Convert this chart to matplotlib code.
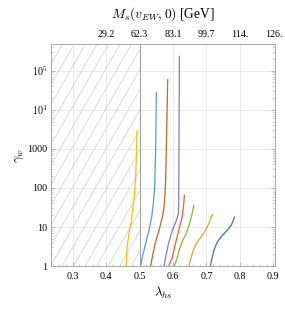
import numpy as np
import matplotlib
matplotlib.use("Agg")
import matplotlib.pyplot as plt
from matplotlib.ticker import FixedLocator, LogLocator, NullFormatter
from matplotlib.collections import LineCollection

plt.rcParams['font.family'] = ['Liberation Serif', 'DejaVu Serif']
plt.rcParams['mathtext.fontset'] = 'cm'

# =========================
# Data
# =========================
lam_yellow = [0.460, 0.461, 0.463, 0.468, 0.476, 0.478, 0.483, 0.488, 0.490, 0.492]
gam_yellow = [1, 1.8, 3.1, 6.8, 14.8, 24, 48, 160, 510, 2900]

lam_blue = [0.503, 0.508, 0.518, 0.528, 0.536, 0.541, 0.545, 0.548, 0.550]
gam_blue = [1, 1.7, 3.7, 8.2, 18, 40, 107, 1000, 28000]

lam_brown = [0.533, 0.538, 0.546, 0.558, 0.568, 0.573, 0.576, 0.578, 0.581, 0.584]
gam_brown = [1, 1.7, 3.7, 8.2, 18, 32, 72, 160, 3000, 58000]

lam_purple = [0.573, 0.578, 0.586, 0.598, 0.610, 0.616, 0.617, 0.619]
gam_purple = [1, 1.7, 3.7, 8.2, 14.8, 22, 48, 230000]

lam_red = [0.587, 0.598, 0.607, 0.617, 0.627, 0.631, 0.634]
gam_red = [1, 1.7, 3.7, 8.2, 18, 32, 65]

lam_green = [0.604, 0.612, 0.618, 0.625, 0.634, 0.643, 0.652, 0.658, 0.662]
gam_green = [1, 1.6, 2.5, 3.8, 5.5, 8.2, 14.8, 24, 36]

lam_orange = [0.647, 0.652, 0.660, 0.672, 0.687, 0.697, 0.707, 0.714, 0.718]
gam_orange = [1, 1.4, 2.5, 4.1, 6.1, 8.2, 12.3, 18, 21]

lam_dblue = [0.712, 0.715, 0.722, 0.732, 0.747, 0.762, 0.774, 0.780, 0.784]
gam_dblue = [1, 1.4, 2.5, 4.1, 6.1, 8.2, 11, 14.8, 18]

curves = [
    (lam_yellow, gam_yellow, '#ffbf00'),
    (lam_blue, gam_blue, '#5a9ed6'),
    (lam_brown, gam_brown, '#c8691c'),
    (lam_purple, gam_purple, '#8e7cc3'),
    (lam_red, gam_red, '#ef5f3c'),
    (lam_green, gam_green, '#8db83b'),
    (lam_orange, gam_orange, '#f0a030'),
    (lam_dblue, gam_dblue, '#4a72b0'),
]

bottom_ticks = [0.3, 0.4, 0.5, 0.6, 0.7, 0.8, 0.9]
top_ticks = [0.4, 0.5, 0.6, 0.7, 0.8, 0.9]
top_labels = ['29.2', '62.3', '83.1', '99.7', '114.', '126.']
y_ticks = [1, 10, 100, 1000, 1e4, 1e5]
y_labels = ['1', '10', '100', '1000', r'$10^4$', r'$10^5$']

lam_excluded = 0.5
xlim = (0.235, 0.905)
ylim = (1, 4.8e5)

# =========================
# Plot
# =========================
W, H = 285, 312
fig = plt.figure(figsize=(W/72, H/72), dpi=72)
ax_box = [0.179, 0.147, 0.786, 0.712]
ax = fig.add_axes(ax_box)

ax.set_yscale('log')
ax.set_xlim(*xlim)
ax.set_ylim(*ylim)

ax.grid(True, which='major', color='#e6e6e6', lw=0.8, zorder=0)
ax.set_axisbelow(True)

# excluded region: steep hatch lines, clipped to the span
span = ax.axvspan(xlim[0], lam_excluded, facecolor='none', lw=0, zorder=1)
aw, ah = ax_box[2] * W, ax_box[3] * H   # axes size in px
step, slope = 11.5, 1.75
run = ah / slope
segs = [[((c) / aw, 0), ((c + run) / aw, 1)] for c in np.arange(-run, aw, step)]
hatch = LineCollection(segs, colors='#d2d2d2', lw=0.8, transform=ax.transAxes, zorder=1)
ax.add_collection(hatch)
hatch.set_clip_path(span)
ax.axvline(lam_excluded, color='#a0a0a0', lw=1.0, zorder=2)

for lam, gam, col in curves:
    ax.plot(lam, gam, color=col, lw=1.3, zorder=3)

ax.xaxis.set_major_locator(FixedLocator(bottom_ticks))
ax.set_xticklabels([f"{t:.1f}" for t in bottom_ticks])
ax.xaxis.set_minor_locator(FixedLocator(np.arange(0.24, 0.91, 0.02)))
ax.yaxis.set_major_locator(FixedLocator(y_ticks))
ax.set_yticklabels(y_labels)
ax.yaxis.set_minor_locator(LogLocator(base=10, subs=np.arange(2, 10)))
ax.yaxis.set_minor_formatter(NullFormatter())

ax.tick_params(which='both', direction='in', colors='#999999', labelcolor='black',
               labelsize=10, right=True)
ax.tick_params(which='major', length=4, width=0.6)
ax.tick_params(which='minor', length=2, width=0.5)
ax.tick_params(axis='x', pad=6)
for s in ax.spines.values():
    s.set_color('#999999')
    s.set_linewidth(0.8)

ax.set_xlabel(r'$\lambda_{hs}$', fontsize=13, labelpad=4)
ax.set_ylabel(r'$\gamma_w$', fontsize=13, labelpad=1)

ax2 = ax.twiny()
ax2.set_xlim(*xlim)
ax2.xaxis.set_major_locator(FixedLocator(top_ticks))
ax2.set_xticklabels(top_labels)
ax2.tick_params(direction='in', colors='#999999', labelcolor='black',
                labelsize=10, length=0, pad=5)
for s in ax2.spines.values():
    s.set_visible(False)
ax2.set_xlabel(r'$M_s(v_{EW},0)$ [GeV]', fontsize=13.5, labelpad=12)

fig.savefig('out.png', dpi=72)
